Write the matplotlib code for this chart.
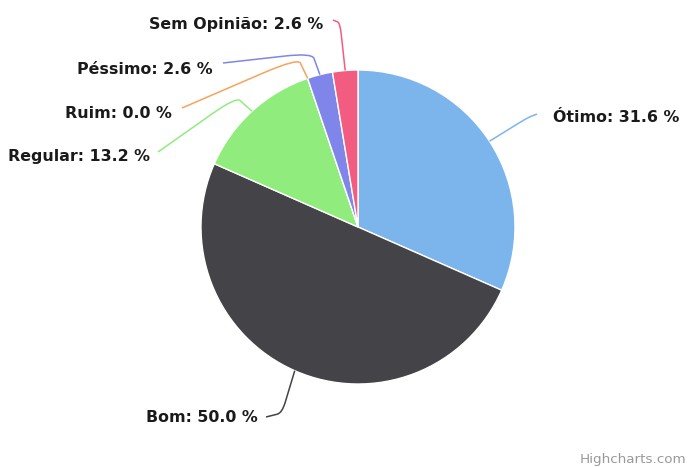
import numpy as np
import matplotlib
matplotlib.use("Agg")
import matplotlib.pyplot as plt
from matplotlib.path import Path
from matplotlib.patches import PathPatch

# ---- data ----
categories = ["Ótimo", "Bom", "Regular", "Ruim", "Péssimo", "Sem Opinião"]
values = [31.6, 50.0, 13.2, 0.0, 2.6, 2.6]
colors = ["#7cb5ec", "#434348", "#90ed7d", "#f7a35c", "#8085e9", "#f15c80"]

W, H = 690, 468
fig = plt.figure(figsize=(W / 100, H / 100), dpi=100)
ax = fig.add_axes([0, 0, 1, 1])

cx, cy, R = 358, H - 227, 157

ax.pie(values, colors=colors, startangle=90, counterclock=False,
       center=(cx, cy), radius=R,
       wedgeprops=dict(edgecolor="white", linewidth=1))

ax.set_xlim(0, W)
ax.set_ylim(0, H)
ax.set_aspect("equal", adjustable="box")
ax.axis("off")

# label layout (pixel coords, y from top): text anchor, ha, connector start, elbow
layout = {
    "Ótimo":       dict(txt=(553, 118), ha="left",  start=(537, 114), elbow=(527, 118)),
    "Bom":         dict(txt=(258, 418), ha="right", start=(266, 417), elbow=(282, 413)),
    "Regular":     dict(txt=(150, 157), ha="right", start=(158, 152), elbow=(236, 97)),
    "Ruim":        dict(txt=(172, 113), ha="right", start=(182, 108), elbow=(298, 58)),
    "Péssimo":     dict(txt=(213, 69),  ha="right", start=(223, 63),  elbow=(312, 53)),
    "Sem Opinião": dict(txt=(323, 25),  ha="right", start=(333, 20),  elbow=(340, 23)),
}

def P(p):
    return (p[0], H - p[1])

total = sum(values)
cum = 0.0
for cat, v, col in zip(categories, values, colors):
    mid = (cum + v / 2) / total * 360.0
    cum += v
    ang = np.deg2rad(mid)
    end = (cx + R * np.sin(ang), cy + R * np.cos(ang))
    lay = layout[cat]
    s = np.array(P(lay["start"]))
    e = np.array(P(lay["elbow"]))
    t = np.array(end)
    a = s + 0.7 * (e - s)
    b = e + 0.25 * (t - e)
    verts = [tuple(s), tuple(a), tuple(e), tuple(b), tuple(t)]
    codes = [Path.MOVETO, Path.LINETO, Path.CURVE3, Path.CURVE3, Path.LINETO]
    ax.add_patch(PathPatch(Path(verts, codes), facecolor="none",
                           edgecolor=col, linewidth=1.1))
    tx, ty = P(lay["txt"])
    ax.text(tx, ty, f"{cat}: {v:.1f} %", ha=lay["ha"], va="center",
            fontsize=11.4, fontweight="bold", color="#1a1a1a",
            family="DejaVu Sans")

ax.text(686, H - 459, "Highcharts.com", ha="right", va="center",
        fontsize=9.7, color="#999999")

fig.savefig("out.png", dpi=100)
